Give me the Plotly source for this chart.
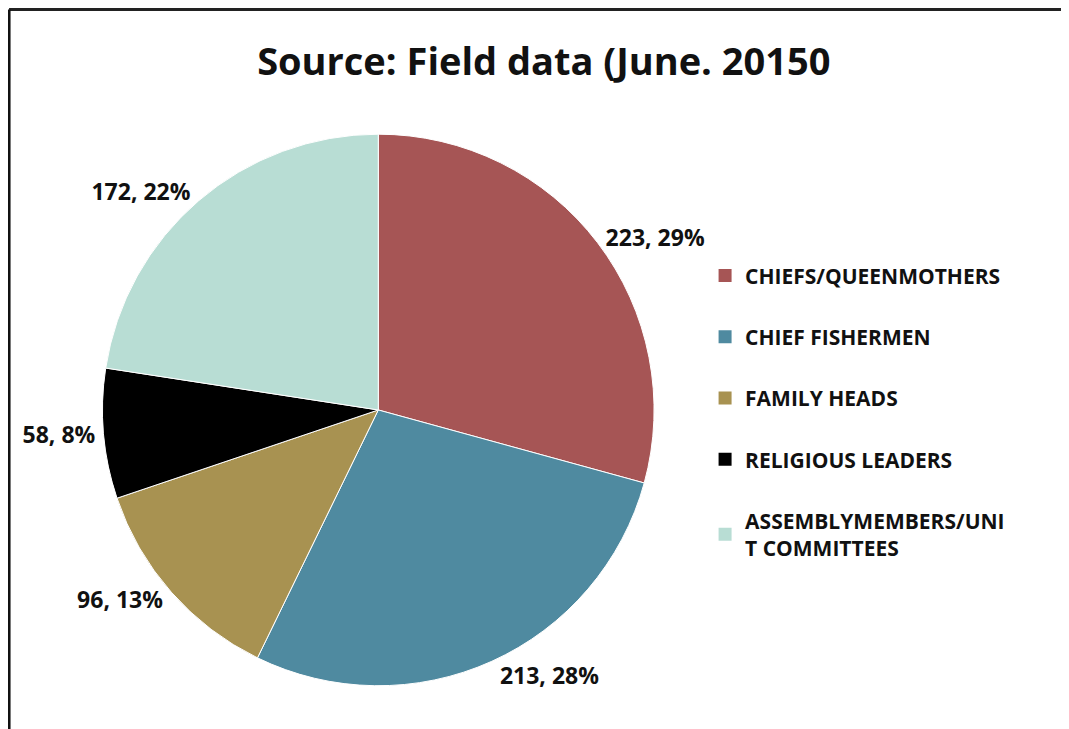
import plotly.graph_objects as go

groups = [
    "CHIEFS/QUEENMOTHERS",
    "CHIEF FISHERMEN",
    "FAMILY HEADS",
    "RELIGIOUS LEADERS",
    "ASSEMBLYMEMBERS/UNI<br>T COMMITTEES",
]
counts = [223, 213, 96, 58, 172]
pct_labels = ["29%", "28%", "13%", "8%", "22%"]
colors = ["#A65555", "#4F8AA0", "#A89251", "#000000", "#B8DDD4"]

font = "'Open Sans', Lato, sans-serif"

fig = go.Figure()
fig.add_trace(
    go.Pie(
        labels=groups,
        values=counts,
        text=[f"{c}, {p}" for c, p in zip(counts, pct_labels)],
        textinfo="text",
        textposition="outside",
        textfont=dict(family=font, size=23, color="#111111", weight="bold"),
        marker=dict(colors=colors, line=dict(color="white", width=1)),
        sort=False,
        direction="clockwise",
        rotation=0,
        showlegend=False,
        hoverinfo="label+value+percent",
        domain=dict(x=[0.085, 0.613], y=[0.06, 0.825]),
    )
)

# legend entries as empty square-marker traces so item spacing can be set
for name, col in zip(groups, colors):
    fig.add_trace(
        go.Scatter(
            x=[None],
            y=[None],
            mode="markers",
            name=name,
            legendgroup=name,
            marker=dict(symbol="square", size=13, color=col),
        )
    )

fig.update_layout(
    width=1061,
    height=721,
    margin=dict(l=0, r=0, t=0, b=0),
    paper_bgcolor="white",
    plot_bgcolor="white",
    title=dict(
        text="<b>Source: Field data (June. 20150</b>",
        x=0.505,
        xanchor="center",
        y=0.925,
        yanchor="middle",
        font=dict(family=font, size=38, color="#111111"),
    ),
    xaxis=dict(visible=False),
    yaxis=dict(visible=False),
    legend=dict(
        x=0.657,
        y=0.657,
        xanchor="left",
        yanchor="top",
        traceorder="grouped",
        tracegroupgap=31,
        font=dict(family=font, size=21, color="#111111", weight="bold"),
        bgcolor="rgba(0,0,0,0)",
    ),
    shapes=[
        dict(type="line", xref="paper", yref="paper", x0=0.001, x1=1, y0=0.998, y1=0.998,
             line=dict(color="#222222", width=3)),
        dict(type="line", xref="paper", yref="paper", x0=0.001, x1=0.001, y0=0, y1=0.998,
             line=dict(color="#111111", width=3)),
    ],
)

fig.write_html("out.html")
